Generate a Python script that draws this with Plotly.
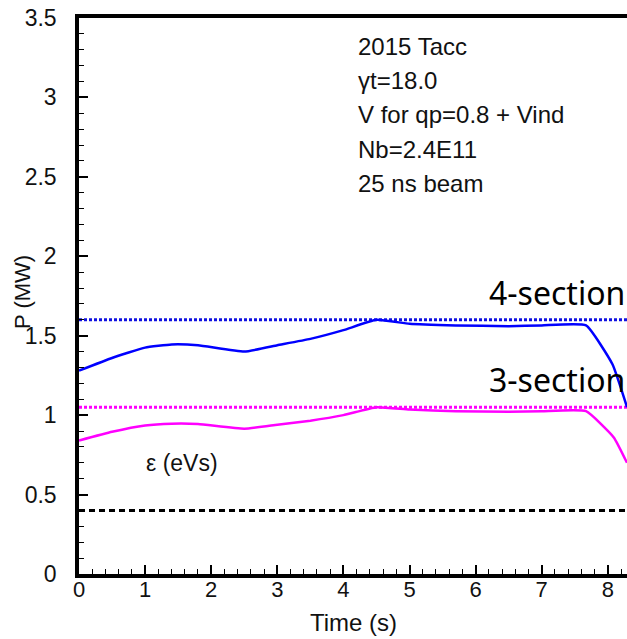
import plotly.graph_objects as go

# Data
t_4sec = [0.0, 0.5, 1.0, 1.4, 1.8, 2.5, 3.0, 3.5, 4.0, 4.5, 5.0, 5.7, 6.5, 7.0, 7.67, 8.07, 8.29]
p_4sec = [1.28, 1.36, 1.425, 1.445, 1.44, 1.40, 1.44, 1.48, 1.535, 1.60, 1.575, 1.565, 1.56, 1.565, 1.565, 1.32, 1.05]

t_3sec = [0.0, 0.5, 1.0, 1.4, 1.8, 2.5, 3.0, 3.5, 4.0, 4.5, 5.0, 5.7, 6.5, 7.0, 7.67, 8.09, 8.29]
p_3sec = [0.84, 0.895, 0.935, 0.946, 0.944, 0.915, 0.94, 0.965, 1.0, 1.05, 1.035, 1.025, 1.022, 1.025, 1.025, 0.86, 0.70]

limit_4sec = 1.60
limit_3sec = 1.05
emittance = 0.40
x_span = [0.0, 8.29]

info_lines = ["2015 Tacc", "\u03b3t=18.0", "V for qp=0.8 + Vind", "Nb=2.4E11", "25 ns beam"]

W, H = 627, 639
L, R, T, B = 79, 0, 18, 65
pw, ph = W - L - R, H - T - B

def px(x):
    return (x - L) / pw

def py(y):
    return 1 - (y - T) / ph

fig = go.Figure()
fig.add_trace(go.Scatter(x=x_span, y=[limit_4sec] * 2, mode="lines",
                         line=dict(color="#1010e0", width=3, dash="3px,2px")))
fig.add_trace(go.Scatter(x=x_span, y=[limit_3sec] * 2, mode="lines",
                         line=dict(color="#ff00ff", width=3, dash="3px,2px")))
fig.add_trace(go.Scatter(x=x_span, y=[emittance] * 2, mode="lines",
                         line=dict(color="black", width=3, dash="6px,4px")))
fig.add_trace(go.Scatter(x=t_4sec, y=p_4sec, mode="lines",
                         line=dict(color="#0000ff", width=2.5, shape="spline", smoothing=0.4)))
fig.add_trace(go.Scatter(x=t_3sec, y=p_3sec, mode="lines",
                         line=dict(color="#ff00ff", width=2.5, shape="spline", smoothing=0.4)))

anns = []
for i, s in enumerate(info_lines):
    anns.append(dict(x=px(356), y=py(46.5 + i * 34.2), xref="paper", yref="paper", text=s,
                     showarrow=False, xanchor="left", yanchor="middle",
                     font=dict(family="Liberation Sans", size=24, color="#111")))

anns.append(dict(x=1.0, y=1.6, xref="paper", yref="y", text="4-section", showarrow=False,
                 xanchor="right", yanchor="bottom", yshift=4,
                 font=dict(family="Noto Sans", size=32, color="black")))
anns.append(dict(x=1.0, y=1.05, xref="paper", yref="y", text="3-section", showarrow=False,
                 xanchor="right", yanchor="bottom", yshift=4,
                 font=dict(family="Noto Sans", size=32, color="black")))
anns.append(dict(x=0.98, y=0.70, xref="x", yref="y", text="\u03b5 (eVs)", showarrow=False,
                 xanchor="left", yanchor="middle",
                 font=dict(family="Liberation Sans", size=23, color="#111")))
# axis titles
anns.append(dict(x=px(353), y=py(623), xref="paper", yref="paper", text="Time (s)",
                 showarrow=False, xanchor="center", yanchor="middle",
                 font=dict(family="Liberation Sans", size=24, color="#111")))
anns.append(dict(x=px(22), y=py(292), xref="paper", yref="paper", text="P (MW)",
                 showarrow=False, xanchor="center", yanchor="middle", textangle=-90,
                 font=dict(family="Liberation Sans", size=22, color="#111")))

fig.update_layout(
    width=W, height=H,
    margin=dict(l=L, r=R, t=T, b=B, autoexpand=False),
    paper_bgcolor="white", plot_bgcolor="white",
    showlegend=False,
    annotations=anns,
    font=dict(family="Liberation Sans", size=22, color="#111"),
)
fig.update_xaxes(range=x_span, dtick=1, tick0=0, showgrid=False, zeroline=False,
                 showline=True, linewidth=3.5, linecolor="black", mirror=True,
                 ticks="inside", ticklen=9, tickwidth=1.5, tickcolor="black",
                 minor=dict(dtick=0.2, ticks="inside", ticklen=5, tickwidth=1, tickcolor="black"),
                 tickfont=dict(size=22), automargin=False, ticklabelstandoff=-7)
fig.update_yaxes(range=[0, 3.5], dtick=0.5, tick0=0, showgrid=False, zeroline=False,
                 showline=True, linewidth=3.5, linecolor="black",
                 ticks="inside", ticklen=9, tickwidth=1.5, tickcolor="black",
                 minor=dict(dtick=0.1, ticks="inside", ticklen=5, tickwidth=1, tickcolor="black"),
                 tickfont=dict(size=23), ticklabelstandoff=14, automargin=False)

fig.write_html("out.html", config={"displayModeBar": False},
               post_script="document.body.style.margin='0';document.body.style.overflow='hidden';")
